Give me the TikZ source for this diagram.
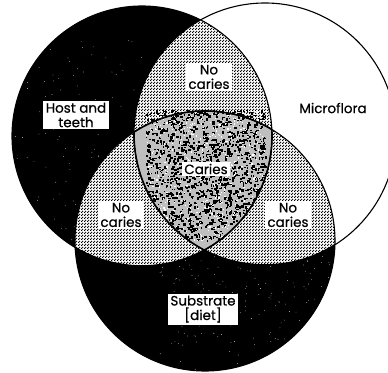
\documentclass[tikz,border=0pt]{standalone}
\usepackage{fontspec}
\newfontfamily\labfont[FakeBold=0.6]{Poppins}
\usetikzlibrary{patterns}
\pgfdeclarepatternformonly{screen}{\pgfpointorigin}{\pgfqpoint{3pt}{3pt}}{\pgfqpoint{3pt}{3pt}}{%
  \pgfpathcircle{\pgfqpoint{0.75pt}{0.75pt}}{0.95pt}%
  \pgfpathcircle{\pgfqpoint{2.25pt}{2.25pt}}{0.95pt}%
  \pgfusepath{fill}}
\begin{document}
\begin{tikzpicture}[x=1pt,y=-1pt,
  lbl/.style={font=\labfont\fontsize{13.5}{14.5}\selectfont, align=center, inner xsep=2.5pt, inner ysep=2pt},
  boxlbl/.style={lbl, fill=white},
  ring/.style={draw=black, line width=1.1pt}]
\useasboundingbox (0,0) rectangle (388,372);
\clip (0,0) rectangle (388,372);
\def\A{(142,136) circle[radius=130pt]}
\def\B{(265,134) circle[radius=131pt]}
\def\C{(205,241) circle[radius=130pt]}
% host and substrate circles: black with speckles
\fill[black] \A;
\fill[black] \C;
\pgfmathsetseed{7}
\begin{scope}
  \clip \A;
  \foreach \i in {1,...,160}{
    \fill[white] ({60+90*rand},{140+100*rand}) circle[radius=0.35pt];
  }
\end{scope}
\begin{scope}
  \clip \C;
  \foreach \i in {1,...,220}{
    \fill[white] ({250+90*rand},{300+70*rand}) circle[radius=0.35pt];
  }
\end{scope}
% pairwise intersections: dotted screen
\begin{scope}
  \clip \A;
  \fill[white] \B;
  \fill[pattern=screen] \B;
\end{scope}
\begin{scope}
  \clip \A;
  \fill[white] \C;
  \fill[pattern=screen] \C;
\end{scope}
\begin{scope}
  \clip \B;
  \fill[white] \C;
  \fill[pattern=screen] \C;
\end{scope}
% triple intersection: mottled
\begin{scope}
  \clip \A;
  \clip \B;
  \fill[black!25] \C;
  \foreach \i in {1,...,1500}{
    \fill[black] ({205+60*rand},{175+65*rand}) rectangle ++({1+rnd*1.8},{1+rnd*1.8});
  }
  \foreach \i in {1,...,500}{
    \fill[white] ({205+60*rand},{175+65*rand}) rectangle ++(1.2,1.2);
  }
\end{scope}
% outlines
\draw[ring] \A;
\draw[ring] \B;
\draw[ring] \C;
\begin{scope}
  \clip \A;
  \clip \B;
  \draw[line width=1.6pt] \C;
\end{scope}
\begin{scope}
  \clip \C;
  \draw[line width=1.6pt] \A;
  \draw[line width=1.6pt] \B;
\end{scope}
% labels
\node[boxlbl] (host) at (76,115) {Host and\\teeth};
\node[lbl] (micro) at (333,108) {Microflora};
\node[boxlbl] (nctop) at (209,77) {No\\caries};
\node[boxlbl] (caries) at (206,169) {Caries};
\node[boxlbl] (ncleft) at (121,215) {No\\caries};
\node[boxlbl] (ncright) at (288,215) {No\\caries};
\node[boxlbl] (subst) at (203,309) {Substrate\\{[}diet{]}};
\end{tikzpicture}
\end{document}
